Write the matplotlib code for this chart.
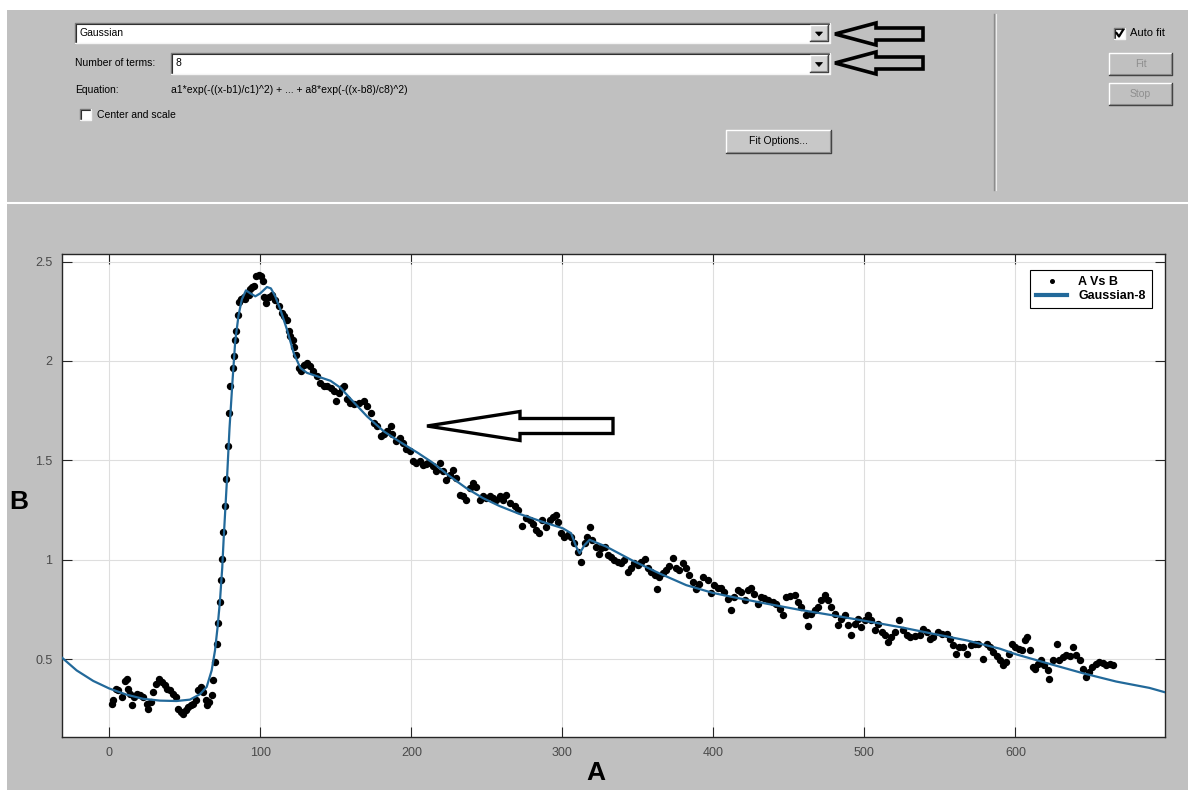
import matplotlib
matplotlib.use('Agg')
import matplotlib.pyplot as plt
from matplotlib.patches import Rectangle, Polygon

plt.rcParams['font.family'] = ['Liberation Sans', 'DejaVu Sans']

W, H = 1188, 790
BG = '#c0c0c0'
FIT_COLOR = '#22699a'

a_vals = [1.5, 2.6, 4.4, 6.0, 8.2, 10.4, 11.5, 12.6, 13.7, 14.8, 16.3, 18.1, 20.3, 22.5, 24.7,
          25.8, 27.4, 29.1, 30.9, 32.9, 34.7, 36.9, 38.4, 40.2, 42.4, 44.2, 45.7, 47.2, 49.0,
          50.8, 52.3, 54.1, 55.6, 57.4, 58.9, 60.5, 62.3, 63.8, 64.9, 66.2, 67.8, 68.9, 70.0,
          71.1, 72.2, 73.3, 73.9, 74.6, 75.2, 76.8, 77.4, 78.3, 79.0, 80.1, 81.6, 82.3, 83.4,
          84.1, 85.0, 85.8, 87.5, 89.0, 90.0, 91.2, 92.3, 93.0, 94.3, 95.6, 97.3, 98.9, 100.4,
          101.8, 102.7, 103.8, 105.5, 107.7, 109.9, 112.2, 114.4, 116.0, 117.7, 118.8, 119.9,
          121.5, 122.1, 123.7, 125.4, 127.2, 129.2, 130.9, 133.2, 134.9, 137.6, 139.8, 142.0,
          144.2, 146.5, 148.7, 149.8, 152.0, 154.2, 155.3, 157.5, 159.7, 161.9, 165.3, 168.6,
          170.8, 173.0, 175.2, 177.4, 179.6, 181.9, 184.1, 186.3, 187.4, 190.1, 192.3, 194.5,
          196.7, 198.9, 201.1, 203.3, 205.5, 207.7, 209.5, 211.0, 214.3, 216.5, 218.7, 220.9,
          223.2, 225.4, 227.6, 229.8, 232.0, 234.2, 236.4, 238.6, 240.8, 243.0, 245.2, 247.4,
          249.6, 251.8, 254.0, 256.2, 258.4, 260.6, 262.8, 265.0, 268.4, 270.6, 273.4, 275.6,
          278.3, 280.5, 282.7, 284.5, 286.7, 289.3, 291.5, 293.7, 295.5, 297.0, 299.2, 301.4,
          303.6, 305.8, 308.0, 310.3, 312.5, 314.7, 316.2, 318.4, 319.7, 322.4, 324.1, 325.7,
          327.9, 330.1, 332.3, 334.5, 336.7, 338.9, 341.1, 343.3, 345.5, 347.7, 349.9, 352.1,
          354.4, 356.6, 358.8, 361.0, 362.5, 364.3, 366.5, 368.7, 370.9, 373.1, 375.3, 377.5,
          379.7, 381.9, 384.1, 386.3, 388.5, 390.7, 393.4, 396.2, 398.5, 400.7, 403.0, 405.1,
          407.3, 409.5, 411.7, 413.9, 416.2, 418.4, 420.6, 422.8, 425.0, 427.2, 429.4, 431.6,
          433.8, 436.1, 439.4, 441.6, 443.8, 446.0, 448.2, 450.9, 453.8, 456.0, 458.2, 461.1,
          462.6, 464.8, 467.0, 469.2, 471.5, 473.7, 475.9, 478.1, 480.3, 482.5, 484.7, 486.9,
          489.2, 491.4, 493.6, 495.8, 498.0, 500.2, 502.4, 504.6, 506.9, 509.1, 511.3, 513.5,
          515.7, 517.9, 520.1, 523.0, 525.7, 527.9, 530.1, 533.4, 536.7, 538.9, 541.2, 543.4,
          545.6, 548.9, 551.1, 554.4, 556.6, 558.8, 560.6, 562.8, 565.5, 567.7, 570.4, 573.2,
          575.4, 578.8, 581.0, 583.2, 585.4, 587.6, 589.8, 591.6, 593.8, 596.0, 597.8, 600.0,
          602.2, 604.4, 606.0, 607.5, 609.3, 611.5, 613.2, 614.8, 617.0, 619.2, 621.4, 622.5,
          624.7, 627.4, 629.1, 631.3, 633.6, 635.8, 638.4, 640.2, 642.4, 644.6, 646.4, 648.6,
          650.8, 653.0, 655.6, 657.8, 660.0, 662.3, 664.5]
b_vals = [0.276, 0.293, 0.351, 0.343, 0.31, 0.39, 0.40, 0.35, 0.326, 0.268, 0.31, 0.326, 0.318,
          0.31, 0.276, 0.25, 0.284, 0.334, 0.376, 0.398, 0.385, 0.368, 0.351, 0.343, 0.326, 0.31,
          0.25, 0.234, 0.223, 0.243, 0.26, 0.268, 0.276, 0.293, 0.343, 0.36, 0.334, 0.293, 0.268,
          0.284, 0.318, 0.396, 0.485, 0.577, 0.68, 0.786, 0.898, 1.003, 1.137, 1.27, 1.405, 1.572,
          1.74, 1.873, 1.965, 2.023, 2.107, 2.149, 2.232, 2.299, 2.31, 2.32, 2.31, 2.33, 2.33,
          2.36, 2.37, 2.375, 2.425, 2.433, 2.428, 2.40, 2.324, 2.29, 2.324, 2.333, 2.308, 2.274,
          2.24, 2.224, 2.207, 2.149, 2.124, 2.107, 2.07, 2.03, 1.965, 1.948, 1.982, 1.99, 1.973,
          1.948, 1.923, 1.89, 1.873, 1.873, 1.865, 1.848, 1.798, 1.84, 1.865, 1.873, 1.806, 1.786,
          1.781, 1.789, 1.798, 1.773, 1.739, 1.689, 1.672, 1.622, 1.63, 1.647, 1.672, 1.63, 1.597,
          1.614, 1.589, 1.555, 1.547, 1.497, 1.488, 1.497, 1.478, 1.48, 1.487, 1.47, 1.444, 1.487,
          1.444, 1.402, 1.428, 1.453, 1.411, 1.327, 1.318, 1.301, 1.36, 1.386, 1.365, 1.301, 1.318,
          1.31, 1.318, 1.31, 1.301, 1.318, 1.301, 1.327, 1.285, 1.268, 1.251, 1.17, 1.209, 1.20,
          1.18, 1.15, 1.133, 1.20, 1.167, 1.20, 1.217, 1.226, 1.192, 1.133, 1.116, 1.125, 1.116,
          1.083, 1.04, 0.99, 1.083, 1.116, 1.167, 1.10, 1.066, 1.029, 1.057, 1.066, 1.024, 1.015,
          0.998, 0.99, 0.985, 0.998, 0.94, 0.956, 0.981, 0.973, 0.99, 1.002, 0.956, 0.94, 0.923,
          0.855, 0.914, 0.931, 0.948, 0.968, 1.007, 0.956, 0.948, 0.981, 0.956, 0.923, 0.889,
          0.855, 0.88, 0.914, 0.90, 0.83, 0.871, 0.859, 0.859, 0.837, 0.804, 0.745, 0.812, 0.846,
          0.837, 0.795, 0.846, 0.859, 0.829, 0.779, 0.812, 0.809, 0.799, 0.787, 0.779, 0.753,
          0.72, 0.812, 0.815, 0.82, 0.787, 0.762, 0.72, 0.664, 0.728, 0.745, 0.762, 0.795, 0.82,
          0.795, 0.762, 0.728, 0.669, 0.703, 0.72, 0.669, 0.619, 0.678, 0.703, 0.661, 0.695, 0.72,
          0.695, 0.644, 0.678, 0.636, 0.619, 0.586, 0.611, 0.636, 0.695, 0.644, 0.619, 0.611,
          0.614, 0.619, 0.653, 0.636, 0.602, 0.611, 0.636, 0.628, 0.628, 0.602, 0.569, 0.527,
          0.56, 0.56, 0.527, 0.569, 0.577, 0.574, 0.502, 0.577, 0.56, 0.535, 0.518, 0.493, 0.468,
          0.485, 0.527, 0.578, 0.561, 0.552, 0.544, 0.595, 0.611, 0.544, 0.459, 0.451, 0.476,
          0.493, 0.468, 0.443, 0.40, 0.493, 0.578, 0.493, 0.51, 0.519, 0.514, 0.561, 0.519,
          0.493, 0.451, 0.409, 0.434, 0.459, 0.476, 0.485, 0.48, 0.468, 0.476, 0.47]

# Gaussian-8 fitted curve
fit_a = [-31.3, -21.6, -10.6, 0.0, 11.5, 22.5, 33.6, 44.6, 53.4, 60.0, 64.5, 67.8, 70.0, 71.7,
         73.3, 74.8, 75.7, 77.9, 79.6, 81.6, 83.4, 85.6, 87.8, 90.5, 93.4, 96.7, 100.0, 104.4,
         107.0, 109.9, 113.3, 117.7, 122.1, 126.5, 130.9, 137.6, 146.5, 153.1, 159.7, 170.8,
         181.9, 193.0, 204.4, 214.3, 225.4, 236.4, 247.4, 258.4, 271.7, 287.1, 300.3, 305.8,
         309.1, 311.4, 314.7, 318.0, 329.0, 346.6, 364.3, 382.0, 399.6, 412.8, 435.0, 457.0,
         479.2, 501.3, 523.5, 545.6, 567.7, 589.8, 600.4, 622.5, 644.6, 666.7, 688.7, 699.0]
fit_b = [0.507, 0.443, 0.39, 0.352, 0.321, 0.30, 0.291, 0.289, 0.296, 0.323, 0.36, 0.443, 0.543,
         0.66, 0.794, 0.96, 1.10, 1.40, 1.66, 1.90, 2.10, 2.23, 2.31, 2.355, 2.34, 2.325, 2.34,
         2.372, 2.365, 2.325, 2.258, 2.157, 2.04, 1.965, 1.94, 1.923, 1.90, 1.865, 1.81, 1.72,
         1.645, 1.59, 1.537, 1.487, 1.42, 1.36, 1.31, 1.27, 1.23, 1.19, 1.158, 1.133, 1.066,
         1.032, 1.074, 1.10, 1.066, 0.995, 0.931, 0.872, 0.833, 0.812, 0.779, 0.748, 0.72, 0.691,
         0.661, 0.627, 0.594, 0.552, 0.524, 0.476, 0.429, 0.387, 0.355, 0.333]

x_ticks = [0, 100, 200, 300, 400, 500, 600]
y_ticks = [0.5, 1, 1.5, 2, 2.5]
y_tick_labels = ['0.5', '1', '1.5', '2', '2.5']

fig = plt.figure(figsize=(W / 100, H / 100), dpi=100, facecolor='white')

# ---- dialog chrome (pixel coordinates) ----
ui = fig.add_axes([0, 0, 1, 1], zorder=0)
ui.set_xlim(0, W)
ui.set_ylim(H, 0)
ui.axis('off')
ui.add_patch(Rectangle((7, 10), W - 7, H - 10, fc=BG, ec='none'))
ui.plot([7, W], [203, 203], color='white', lw=1.5)


def sunken(x0, y0, x1, y1, fill='white'):
    ui.add_patch(Rectangle((x0, y0), x1 - x0, y1 - y0, fc=fill, ec='none'))
    ui.plot([x0, x0, x1], [y1, y0, y0], color='#7a7a7a', lw=1.0)
    ui.plot([x0 + 1, x0 + 1, x1 - 1], [y1 - 1, y0 + 1, y0 + 1], color='#303030', lw=0.8)
    ui.plot([x0, x1, x1], [y1, y1, y0], color='#f4f4f4', lw=1.0)


def raised(x0, y0, x1, y1, fill='#c8c8c8'):
    ui.add_patch(Rectangle((x0, y0), x1 - x0, y1 - y0, fc=fill, ec='none'))
    ui.plot([x0, x0, x1], [y1, y0, y0], color='white', lw=1.0)
    ui.plot([x0, x1, x1], [y1, y1, y0], color='#404040', lw=1.0)
    ui.plot([x0 + 1, x1 - 1, x1 - 1], [y1 - 1, y1 - 1, y0 + 1], color='#8a8a8a', lw=0.8)


def label(x, y, s, color='black', size=7.5, ha='left'):
    ui.text(x, y, s, fontsize=size, color=color, ha=ha, va='center')


def dropdown(x0, y0, x1, y1):
    sunken(x0, y0, x1, y1)
    raised(x1 - 20, y0 + 2, x1 - 2, y1 - 2, fill='#d6d6d6')
    cx, cy = x1 - 11, (y0 + y1) / 2 + 1
    ui.add_patch(Polygon([(cx - 3.5, cy - 2), (cx + 3.5, cy - 2), (cx, cy + 2)],
                         closed=True, fc='black', ec='black', lw=0.5))


def outline_arrow(axis, tip_x, cy, head_x, head_h, shaft_h, end_x, lw):
    pts = [(tip_x, cy), (head_x, cy - head_h), (head_x, cy - shaft_h), (end_x, cy - shaft_h),
           (end_x, cy + shaft_h), (head_x, cy + shaft_h), (head_x, cy + head_h)]
    axis.add_patch(Polygon(pts, closed=True, fill=False, ec='black', lw=lw,
                           joinstyle='miter'))


dropdown(75, 23, 830, 43)
label(79, 33.5, 'Gaussian')
label(75, 63.5, 'Number of terms:')
dropdown(171, 53, 830, 74)
label(175, 63.5, '8')
label(75, 90, 'Equation:')
label(171, 90, 'a1*exp(-((x-b1)/c1)^2) + ... + a8*exp(-((x-b8)/c8)^2)')
sunken(80, 109, 91, 120)
label(97, 114.5, 'Center and scale')
raised(726, 130, 831, 153)
label(778.5, 141.5, 'Fit Options...', ha='center')
outline_arrow(ui, 835, 34, 876, 11, 6, 923, 2.6)
outline_arrow(ui, 835, 63, 876, 11, 6, 923, 2.6)

ui.plot([994, 994], [14, 190], color='#8c8c8c', lw=1.0)
ui.plot([995.5, 995.5], [14, 190], color='#ececec', lw=0.8)
sunken(1114, 28, 1125, 39)
ui.plot([1116.5, 1119, 1123], [33, 36.5, 30], color='black', lw=1.6)
label(1130, 33.5, 'Auto fit', size=8)
raised(1109, 53, 1172, 75, fill=BG)
label(1140.5, 64, 'Fit', color='#8e8e8e', ha='center')
raised(1109, 83, 1172, 105, fill=BG)
label(1140.5, 94, 'Stop', color='#8e8e8e', ha='center')

# ---- the plot ----
ax = fig.add_axes([62 / W, 1 - 737 / H, (1165 - 62) / W, (737 - 254) / H], zorder=2)
pts, = ax.plot(a_vals, b_vals, 'o', color='black', ms=4.3, mec='black', label='A Vs B',
               zorder=2)
fit_line, = ax.plot(fit_a, fit_b, color=FIT_COLOR, lw=1.6, label='Gaussian-8', zorder=3)
ax.set_xlim(-31.3, 699)
ax.set_ylim(0.108, 2.538)
ax.set_xticks(x_ticks)
ax.set_yticks(y_ticks)
ax.set_yticklabels(y_tick_labels)
ax.grid(True, color='#dedede', lw=0.8)
ax.set_axisbelow(True)
ax.tick_params(direction='in', length=7.5, width=0.8, color='#262626', labelcolor='#4a4a4a',
               labelsize=9, top=True, right=True, pad=7)
for s in ax.spines.values():
    s.set_color('#262626')
    s.set_linewidth(1.0)

leg = ax.legend(handles=[pts, fit_line], loc='upper right',
                bbox_to_anchor=(1152 / W, 1 - 270 / H), bbox_transform=fig.transFigure,
                prop={'weight': 'bold', 'size': 9}, frameon=True, fancybox=False,
                edgecolor='black', framealpha=1, borderpad=0.5, handlelength=2.5,
                handletextpad=0.9, labelspacing=0.15, markerscale=0.6, borderaxespad=0)
leg.get_frame().set_linewidth(0.8)
leg.legend_handles[1].set_linewidth(3)

fig.text(19 / W, 1 - 502 / H, 'B', fontsize=19, fontweight='bold', ha='center', va='center')
fig.text(596 / W, 1 - 773 / H, 'A', fontsize=19, fontweight='bold', ha='center', va='center')

# ---- annotation arrow drawn over the plot ----
over = fig.add_axes([0, 0, 1, 1], zorder=5)
over.set_xlim(0, W)
over.set_ylim(H, 0)
over.axis('off')
outline_arrow(over, 427, 426, 520, 14.5, 7.5, 613, 2.4)

fig.savefig('out.png', dpi=100, facecolor=fig.get_facecolor())
